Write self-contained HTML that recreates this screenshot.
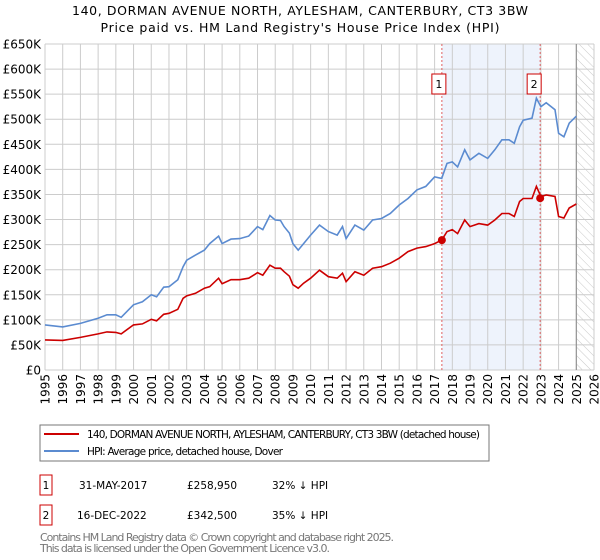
<!DOCTYPE html>
<html><head><meta charset="utf-8"><style>
body{margin:0;background:#fff}
svg{display:block;font-family:"DejaVu Sans","Liberation Sans",sans-serif}
</style></head><body>
<svg id="c" width="600" height="560" viewBox="0 0 600 560">
<text x="300" y="15" text-anchor="middle" font-size="12.5" textLength="456">140, DORMAN AVENUE NORTH, AYLESHAM, CANTERBURY, CT3 3BW</text>
<text x="300" y="32" text-anchor="middle" font-size="12.5" textLength="399">Price paid vs. HM Land Registry's House Price Index (HPI)</text>
<g id="plot"></g>
<rect x="40" y="425" width="449" height="36" fill="#fff" stroke="#777"/>
<line x1="44" y1="434" x2="79" y2="434" stroke="#cc0000" stroke-width="2"/>
<text x="87" y="438" font-size="10.5" textLength="393">140, DORMAN AVENUE NORTH, AYLESHAM, CANTERBURY, CT3 3BW (detached house)</text>
<line x1="44" y1="451" x2="79" y2="451" stroke="#5b8bd0" stroke-width="2"/>
<text x="87" y="455" font-size="10.5" textLength="196">HPI: Average price, detached house, Dover</text>
<g font-size="10.5">
<rect x="40" y="475" width="12" height="20" fill="#fff" stroke="#cc0000"/>
<text x="46" y="489" text-anchor="middle">1</text>
<text x="79" y="489">31-MAY-2017</text>
<text x="187" y="489">£258,950</text>
<text x="272" y="489">32% ↓ HPI</text>
<rect x="40" y="505" width="12" height="20" fill="#fff" stroke="#cc0000"/>
<text x="46" y="519" text-anchor="middle">2</text>
<text x="77" y="519">16-DEC-2022</text>
<text x="187" y="519">£342,500</text>
<text x="272" y="519">35% ↓ HPI</text>
</g>
<text x="40" y="541" font-size="11" fill="#777" textLength="354">Contains HM Land Registry data © Crown copyright and database right 2025.</text>
<text x="40" y="552" font-size="11" fill="#777" textLength="290">This data is licensed under the Open Government Licence v3.0.</text>
</svg>
<script>
const hpiYears=[1995,1996,1997,1998,1998.5,1999,1999.3,2000,2000.5,2001,2001.3,2001.7,2002,2002.5,2002.8,2003,2003.5,2004,2004.3,2004.8,2005,2005.5,2006,2006.5,2007,2007.3,2007.7,2008,2008.3,2008.5,2008.8,2009,2009.3,2009.6,2010,2010.5,2011,2011.5,2011.8,2012,2012.5,2013,2013.5,2014,2014.5,2015,2015.5,2016,2016.5,2017,2017.4,2017.7,2018,2018.3,2018.7,2019,2019.5,2020,2020.4,2020.8,2021.2,2021.5,2021.8,2022,2022.5,2022.75,2023,2023.3,2023.8,2024,2024.3,2024.6,2025];
const hpiValues=[90,86,93,103,110,110,105,130,136,150,146,165,166,180,206,219,229,239,252,267,252,261,262,267,286,280,308,299,298,286,273,252,239,252,269,289,276,269,286,262,289,279,299,302,312,329,342,359,366,385,382,412,415,405,439,419,432,422,439,459,459,452,485,498,502,542,525,533,519,472,465,492,506];
const priceValues=[60,59,65,72,76,75,72,90,92,101,98,111,113,121,143,148,153,163,166,183,172,180,180,183,194,189,209,203,203,196,187,170,163,173,183,199,186,183,193,176,196,189,203,206,213,223,236,243,246,252,259,276,280,272,299,286,292,289,299,312,312,306,336,342,342,366,346,349,346,306,303,323,331];
const saleYears=[2017.41,2022.96];
const saleValues=[258.95,342.5];
const saleLabels=["1","2"];
const yTicks=[0,50,100,150,200,250,300,350,400,450,500,550,600,650];
const xTicks=[1995,1996,1997,1998,1999,2000,2001,2002,2003,2004,2005,2006,2007,2008,2009,2010,2011,2012,2013,2014,2015,2016,2017,2018,2019,2020,2021,2022,2023,2024,2025,2026];
const X0=45,X1=594,Y0=370,Y1=44;
const xs=y=>X0+(y-1995)/(2026-1995)*(X1-X0);
const ys=v=>Y0-v/650*(Y0-Y1);
const NS="http://www.w3.org/2000/svg";
const g=document.getElementById('plot');
function mk(t,a){const e=document.createElementNS(NS,t);for(const k in a)e.setAttribute(k,a[k]);g.appendChild(e);return e;}
// shaded region & hatch
let e=mk('rect',{x:xs(saleYears[0]),y:Y1,width:xs(saleYears[1])-xs(saleYears[0]),height:Y0-Y1,fill:'#eef3fc'});


const defs=mk('defs',{});
defs.innerHTML='<pattern id="h" width="6" height="6" patternUnits="userSpaceOnUse" patternTransform="rotate(-45)"><line x1="0" y1="0" x2="0" y2="6" stroke="#bbb" stroke-width="0.8"/></pattern>';
e=mk('rect',{x:xs(2025),y:Y1,width:X1-xs(2025),height:Y0-Y1,fill:'url(#h)'});


yTicks.forEach(v=>{
 e=mk('line',{x1:X0,x2:X1,y1:ys(v),y2:ys(v),stroke:'#ccc','stroke-width':1});
 
 
 e=mk('text',{x:X0-4,y:ys(v)+4.5,'text-anchor':'end','font-size':12});
 e.textContent=v===0?'£0':'£'+v+'K';
 
 
});
xTicks.forEach(y=>{
 e=mk('line',{x1:xs(y),x2:xs(y),y1:Y1,y2:Y0,stroke:'#ccc','stroke-width':1});
 
 
 e=mk('text',{x:0,y:0,'text-anchor':'end','font-size':12,transform:`translate(${xs(y)+4.5},${Y0+4}) rotate(-90)`});
 e.textContent=y;
 
 
});
e=mk('line',{x1:xs(2025),x2:xs(2025),y1:Y1,y2:Y0,stroke:'#888','stroke-width':1});


saleYears.forEach((y,i)=>{
 e=mk('line',{x1:xs(y),x2:xs(y),y1:Y1,y2:Y0,stroke:'#e06060','stroke-width':1,'stroke-dasharray':'2,2'});
 
 
 e=mk('rect',{x:xs(y)-10-(i?3:0),y:74,width:14,height:20,fill:'#fff',stroke:'#cc0000'});
 
 
 e=mk('text',{x:xs(y)-3-(i?3:0),y:88,'text-anchor':'middle','font-size':11});
 e.textContent=saleLabels[i];
 
 
});
function path(vals){return vals.map((v,i)=>(i?'L':'M')+xs(hpiYears[i]).toFixed(1)+','+ys(v).toFixed(1)).join('');}
e=mk('path',{d:path(hpiValues),fill:'none',stroke:'#5b8bd0','stroke-width':1.6});


e=mk('path',{d:path(priceValues),fill:'none',stroke:'#cc0000','stroke-width':1.6});


saleYears.forEach((y,i)=>{
 e=mk('circle',{cx:xs(y),cy:ys(saleValues[i]),r:4,fill:'#cc0000'});
 
 
});
</script>
</body></html>
